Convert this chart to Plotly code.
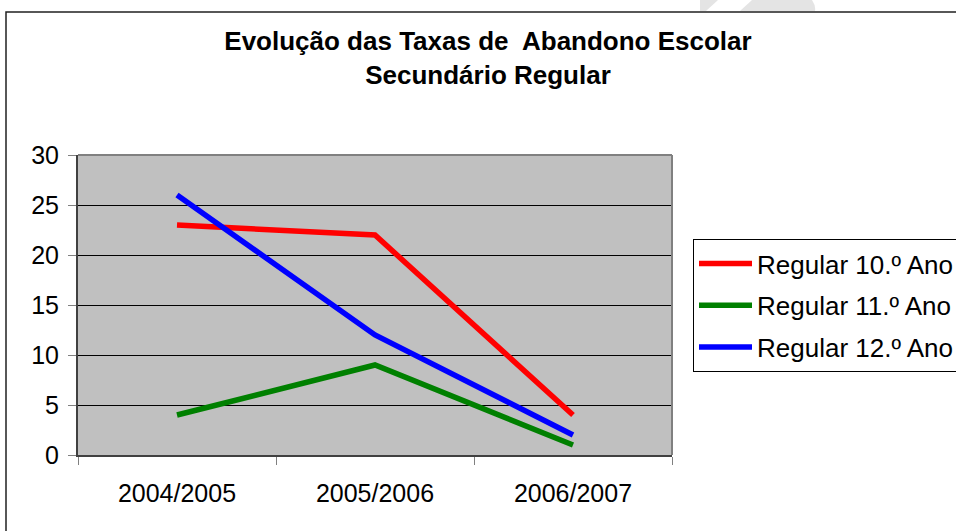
import plotly.graph_objects as go

categories = ["2004/2005", "2005/2006", "2006/2007"]
series_names = ["Regular 10.º Ano", "Regular 11.º Ano", "Regular 12.º Ano"]
values_10 = [23, 22, 4]
values_11 = [4, 9, 1]
values_12 = [26, 12, 2]
colors = ["#FF0000", "#008000", "#0000FF"]

W, H = 956, 531
L, R, T, B = 78, 672, 155, 455  # plot area pixels


def px(x):
    return (x - L) / (R - L)


def py(y):
    return (B - y) / (B - T)


FONT = "Liberation Sans, Arial, sans-serif"

fig = go.Figure()
for i, (name, vals) in enumerate(zip(series_names, [values_10, values_11, values_12])):
    fig.add_trace(go.Scatter(
        x=categories, y=vals, name=name, mode="lines",
        line=dict(color=colors[i], width=5.5),
        legendgroup=f"g{i}",
    ))

fig.update_layout(
    width=W, height=H,
    margin=dict(l=L, r=W - R, t=T, b=H - B, autoexpand=False),
    paper_bgcolor="white",
    plot_bgcolor="#C0C0C0",
    font=dict(family=FONT, size=25, color="black"),
    title=dict(
        text="<b>Evolução das Taxas de  Abandono Escolar<br>Secundário Regular</b>",
        x=488 / W, xanchor="center", xref="container",
        y=1 - 50 / H, yanchor="top", yref="container",
        font=dict(family=FONT, size=26, color="black"),
    ),
    legend=dict(
        x=px(693), y=py(239), xanchor="left", yanchor="top",
        bordercolor="black", borderwidth=1, bgcolor="white",
        font=dict(family=FONT, size=26, color="black"),
        tracegroupgap=5, itemwidth=53,
    ),
    showlegend=True,
)

fig.update_xaxes(
    type="category", range=[-0.5, 2.5],
    showgrid=False, zeroline=False,
    showline=True, linecolor="#404040", linewidth=2,
    ticks="outside", ticklen=8, tickcolor="#808080", tickwidth=1,
    tickson="boundaries", ticklabelstandoff=15,
    tickfont=dict(family=FONT, size=25, color="black"),
)
fig.update_yaxes(
    range=[0, 30], dtick=5, tick0=0,
    showgrid=True, gridcolor="black", gridwidth=1,
    zeroline=False,
    showline=True, linecolor="#404040", linewidth=2,
    ticks="outside", ticklen=8, tickcolor="#808080", tickwidth=1,
    ticklabelstandoff=4,
    tickfont=dict(family=FONT, size=25, color="black"),
)

shapes = [
    # plot-area top/right border
    dict(type="line", xref="paper", yref="paper", x0=0, x1=1, y0=1, y1=1,
         line=dict(color="#808080", width=2)),
    dict(type="line", xref="paper", yref="paper", x0=1, x1=1, y0=0, y1=1,
         line=dict(color="#808080", width=2)),
    # chart-area border
    dict(type="rect", xref="paper", yref="paper",
         x0=px(6), x1=px(1100), y0=py(700), y1=py(12),
         line=dict(color="#202020", width=1.5), layer="below"),
    # faint watermark pieces at top
    dict(type="path", xref="paper", yref="paper",
         path=f"M {px(700)} {py(0)} L {px(718)} {py(0)} L {px(706)} {py(11)} L {px(700)} {py(11)} Z",
         fillcolor="#E4E4E4", line=dict(width=0), layer="below"),
    dict(type="path", xref="paper", yref="paper",
         path=f"M {px(740)} {py(11)} L {px(752)} {py(0)} L {px(812)} {py(0)} Q {px(816)} {py(6)} {px(815)} {py(11)} Z",
         fillcolor="#E4E4E4", line=dict(width=0), layer="below"),
]
fig.update_layout(shapes=shapes)

fig.write_html("out.html", config={"displayModeBar": False},
               post_script="document.body.style.margin='0px';")
